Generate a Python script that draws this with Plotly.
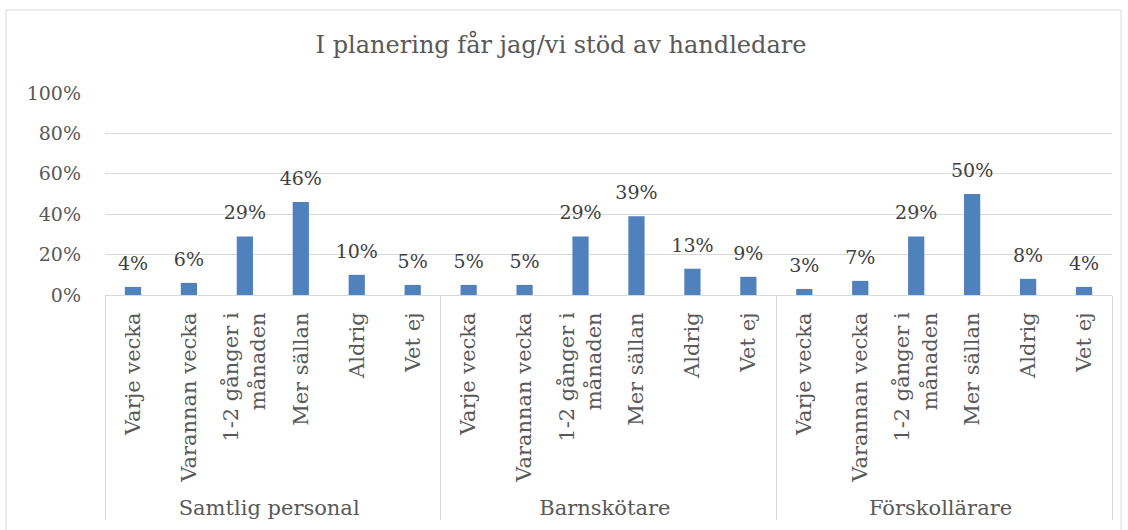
import plotly.graph_objects as go

title = "I planering får jag/vi stöd av handledare"
groups = ["Samtlig personal", "Barnskötare", "Förskollärare"]
categories = ["Varje vecka", "Varannan vecka", "1-2 gånger i<br>månaden", "Mer sällan", "Aldrig", "Vet ej"]
samtlig = [4, 6, 29, 46, 10, 5]
barnskotare = [5, 5, 29, 39, 13, 9]
forskollarare = [3, 7, 29, 50, 8, 4]
y_ticks = [0, 20, 40, 60, 80, 100]
y_tick_labels = ["0%", "20%", "40%", "60%", "80%", "100%"]

outer, inner, vals = [], [], []
for g, series in zip(groups, [samtlig, barnskotare, forskollarare]):
    for c, v in zip(categories, series):
        outer.append(g)
        inner.append(c)
        vals.append(v)

FONT = "DejaVu Serif"
fig = go.Figure()
fig.add_trace(go.Bar(
    x=[outer, inner], y=vals,
    marker=dict(color="#4f81bd", line=dict(width=0)),
    hoverinfo="skip",
))
# data labels, lifted a little above each bar
fig.add_trace(go.Scatter(
    x=[outer, inner], y=vals, mode="markers+text",
    marker=dict(size=18, opacity=0),
    text=[f"{v}%" for v in vals], textposition="top center",
    textfont=dict(family=FONT, size=19, color="#404040"),
    cliponaxis=False, hoverinfo="skip",
))

W, H = 1128, 530
ml, mr, mt, mb = 105, 16, 93, 235
pw, ph = W - ml - mr, H - mt - mb

fig.update_layout(
    width=W, height=H,
    margin=dict(l=ml, r=mr, t=mt, b=mb, autoexpand=False),
    paper_bgcolor="white", plot_bgcolor="white",
    bargap=0.71,
    showlegend=False,
    title=dict(text=title, x=561 / W, xanchor="center", y=1 - 45 / H, yanchor="middle",
               font=dict(family=FONT, size=24, color="#595959")),
    font=dict(family=FONT, color="#595959"),
)
fig.update_yaxes(
    range=[0, 100], tickvals=y_ticks, ticktext=y_tick_labels,
    showgrid=True, gridcolor="#d9d9d9", gridwidth=1,
    zeroline=False, showline=False, ticks="",
    tickfont=dict(family=FONT, size=19, color="#595959"),
    ticklabelstandoff=23, automargin=False,
)
fig.update_xaxes(
    type="multicategory",
    range=[-0.5, len(vals) - 0.5],
    tickangle=-90,
    showline=True, linecolor="#d9d9d9", linewidth=1,
    showdividers=True, dividercolor="#d9d9d9", dividerwidth=1,
    ticks="", automargin=False, ticklabelstandoff=8,
    tickfont=dict(family=FONT, size=21, color="#595959"),
)

# outer chart border
fig.add_shape(type="rect", xref="paper", yref="paper",
              x0=(6 - ml) / pw, x1=(1121 - ml) / pw,
              y0=-(mb + 20) / ph, y1=(H - 10 - mb) / ph,
              line=dict(color="#d9d9d9", width=1), fillcolor="rgba(0,0,0,0)", layer="below")

fig.write_html("out.html", config={"displayModeBar": False},
               post_script="document.body.style.margin='0';")
